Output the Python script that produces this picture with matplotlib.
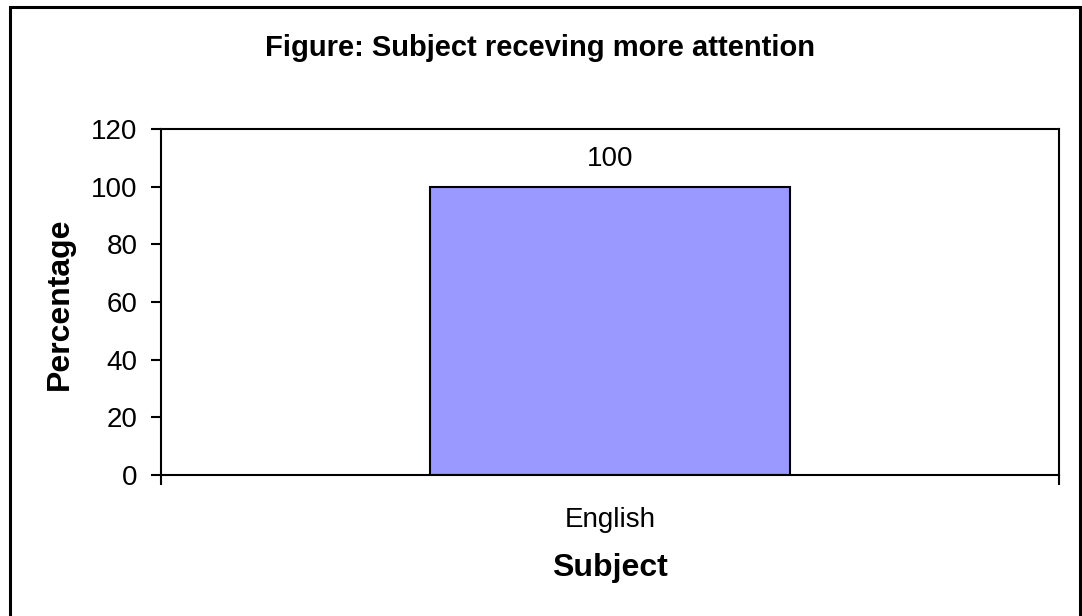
import matplotlib
matplotlib.use("Agg")
import matplotlib.pyplot as plt
from matplotlib.patches import Rectangle

plt.rcParams['font.family'] = ['Liberation Sans', 'DejaVu Sans']

subjects = ["English"]
percent = [100]
yticks = [0, 20, 40, 60, 80, 100, 120]

fig = plt.figure(figsize=(10.82, 6.16), dpi=100)
W, H = 1082, 616

# outer chart frame
fig.patches.append(Rectangle((10 / W, -0.01), 1070 / W, 1.01 - 7 / H,
                             transform=fig.transFigure, fill=False,
                             edgecolor="black", linewidth=2.2))

ax = fig.add_axes([161 / W, 1 - 475 / H, 898 / W, 346 / H])
x = list(range(len(subjects)))
bars = ax.bar(x, percent, width=0.4, color="#9999FF", edgecolor="black", linewidth=1.5)
for b, v in zip(bars, percent):
    ax.text(b.get_x() + b.get_width() / 2, v + 9.5, str(v), ha="center", va="center", fontsize=20)

ax.set_xlim(-0.5, len(subjects) - 0.5)
ax.set_ylim(0, 120)
ax.set_yticks(yticks)
ax.tick_params(axis="y", labelsize=20, length=7.5, width=1.5, direction="out", pad=9.5)
ax.set_xticks([-0.5, 0.5])
ax.set_xticklabels(["", ""])
ax.tick_params(axis="x", length=7.5, width=1.5, direction="out")
ax.set_xticks(x, minor=True)
ax.set_xticklabels(subjects, minor=True, fontsize=20)
ax.tick_params(axis="x", which="minor", length=0, pad=23)
for s in ax.spines.values():
    s.set_linewidth(1.5)

ax.set_xlabel("Subject", fontsize=23, fontweight="bold", va="center")
ax.xaxis.set_label_coords(0.5, 1 - 568 / H, transform=fig.transFigure)
ax.set_ylabel("Percentage", fontsize=23, fontweight="bold", va="center")
ax.yaxis.set_label_coords(60 / W, 1 - 304 / H, transform=fig.transFigure)
ax.xaxis.label.set_x(610 / W)
fig.text(540 / W, 1 - 48 / H, "Figure: Subject receving more attention", ha="center", va="center",
         fontsize=21, fontweight="bold")

fig.savefig("out.png", dpi=100)
